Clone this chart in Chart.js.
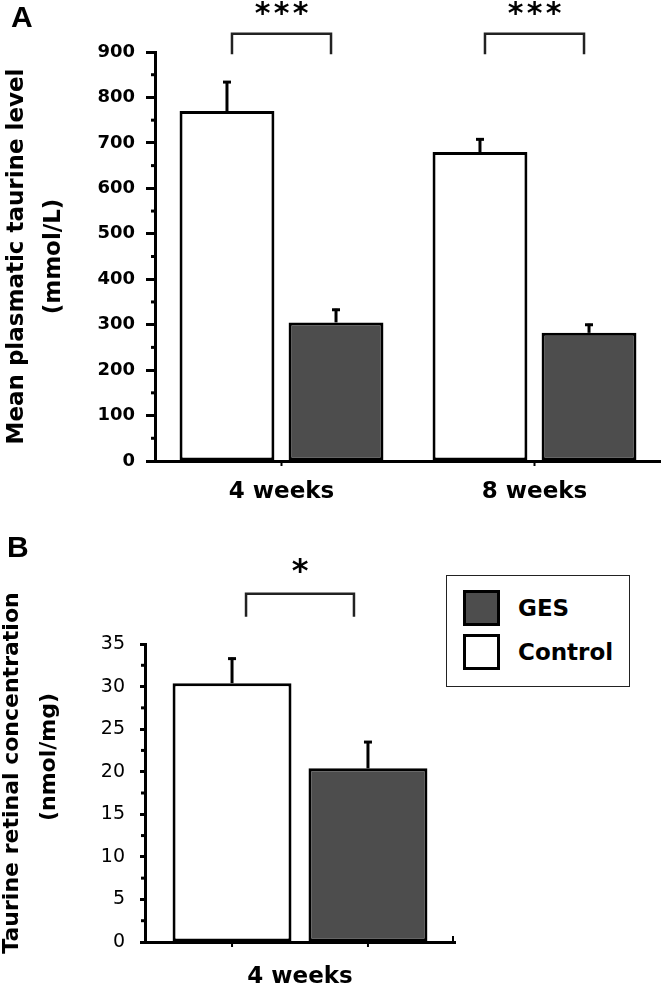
<!DOCTYPE html>
<html>
<head>
<meta charset="utf-8">
<script src="https://cdn.jsdelivr.net/npm/chart.js@4"></script>
<style>
  body { margin: 0; background: #fff; }
  #page { position: relative; width: 661px; height: 985px; overflow: hidden; background: #fff; }
  #wrapA { position: absolute; left: 0; top: 0; }
  #wrapB { position: absolute; left: 0; top: 515px; }
  .panel { position: absolute; font: bold 30px 'Liberation Sans', Arial, sans-serif; color: #000; }
  #legend { position: absolute; left: 446px; top: 575px; width: 184px; height: 112px;
            box-sizing: border-box; border: 1.5px solid #222; background: #fff; }
  .item { position: absolute; left: 16px; display: flex; align-items: center; height: 36px; }
  .swatch { width: 37px; height: 36px; box-sizing: border-box; border: 3px solid #000; }
  .item span { margin-left: 18px; font: bold 23px 'DejaVu Sans', sans-serif; color: #000; }
</style>
</head>
<body>
<div id="page">
  <div id="wrapA"><canvas id="chartA" width="661" height="515"></canvas></div>
  <div id="wrapB"><canvas id="chartB" width="661" height="470"></canvas></div>
  <div class="panel" style="left:11px;top:0px;">A</div>
  <div class="panel" style="left:7px;top:530px;">B</div>
  <div id="legend"></div>
</div>
<script>
// panel A: plasma taurine
const weeksA = ['4 weeks', '8 weeks'];
const controlA = [770, 680];
const controlErrA = [66, 30];
const gesA = [305, 282];
const gesErrA = [30, 20];
const sigA = ['***', '***'];

// panel B: retinal taurine
const weeksB = ['4 weeks'];
const controlB = [30.4];
const controlErrB = [3.0];
const gesB = [20.4];
const gesErrB = [3.2];
const sigB = ['*'];

const GREY = '#4d4d4d';

// error bars, minor ticks, brackets with stars
function makeExtras(cfg) {
  return {
    id: 'extras',
    afterDatasetsDraw(chart) {
      const ctx = chart.ctx;
      const y = chart.scales.y;
      const area = chart.chartArea;
      ctx.save();
      ctx.strokeStyle = '#000';
      ctx.fillStyle = '#000';

      // error bars (upper only)
      chart.data.datasets.forEach((ds, di) => {
        const meta = chart.getDatasetMeta(di);
        meta.data.forEach((bar, i) => {
          const top = y.getPixelForValue(ds.data[i] + ds.errors[i]);
          ctx.lineWidth = 3;
          ctx.beginPath();
          ctx.moveTo(bar.x, bar.y);
          ctx.lineTo(bar.x, top);
          ctx.stroke();
          ctx.beginPath();
          ctx.moveTo(bar.x - 4, top + 1);
          ctx.lineTo(bar.x + 4, top + 1);
          ctx.stroke();
        });
      });

      // minor ticks on the y axis
      const step = cfg.step;
      ctx.lineWidth = 3;
      for (let v = step / 2; v < y.max; v += step) {
        const py = y.getPixelForValue(v);
        ctx.beginPath();
        ctx.moveTo(area.left - cfg.minorLen, py);
        ctx.lineTo(area.left, py);
        ctx.stroke();
      }

      // x ticks under bar centres (panel B)
      if (cfg.barTicks) {
        ctx.lineWidth = 2;
        chart.data.datasets.forEach((ds, di) => {
          chart.getDatasetMeta(di).data.forEach(bar => {
            ctx.beginPath();
            ctx.moveTo(bar.x, area.bottom);
            ctx.lineTo(bar.x, area.bottom + 5);
            ctx.stroke();
          });
        });
        ctx.beginPath();
        ctx.moveTo(area.right - 2, area.bottom);
        ctx.lineTo(area.right - 2, area.bottom - 6);
        ctx.stroke();
      }

      // significance brackets
      const m0 = chart.getDatasetMeta(0).data;
      const m1 = chart.getDatasetMeta(1).data;
      cfg.sig.forEach((txt, i) => {
        const x0 = m0[i].x + cfg.inset;
        const x1 = m1[i].x - cfg.inset;
        const yt = y.getPixelForValue(cfg.bracketTop);
        const yl = y.getPixelForValue(cfg.bracketLeg);
        ctx.lineWidth = 2.5;
        ctx.strokeStyle = '#222';
        ctx.beginPath();
        ctx.moveTo(x0, yl);
        ctx.lineTo(x0, yt);
        ctx.lineTo(x1, yt);
        ctx.lineTo(x1, yl);
        ctx.stroke();

        ctx.font = cfg.starFont;
        ctx.textAlign = 'center';
        ctx.textBaseline = 'alphabetic';
        const ys = y.getPixelForValue(cfg.starAt);
        const mid = (x0 + x1) / 2;
        const chars = txt.split('');
        chars.forEach((c, k) => {
          const mm = ctx.measureText(c);
          const off = (mm.actualBoundingBoxAscent - mm.actualBoundingBoxDescent) / 2;
          const cx = mid + (k - (chars.length - 1) / 2) * cfg.starGap;
          ctx.fillText(c, cx, ys + off);
        });
      });
      ctx.restore();
    }
  };
}

// rotated axis title drawn line by line
function makeSideTitle(lines, font) {
  return {
    id: 'sideTitle',
    afterDraw(chart) {
      const ctx = chart.ctx;
      ctx.save();
      ctx.font = font;
      ctx.fillStyle = '#000';
      ctx.textAlign = 'center';
      ctx.textBaseline = 'middle';
      lines.forEach(l => {
        ctx.save();
        ctx.translate(l.x, l.y);
        ctx.rotate(-Math.PI / 2);
        ctx.fillText(l.text, 0, 0);
        ctx.restore();
      });
      ctx.restore();
    }
  };
}

Chart.defaults.animation = false;
Chart.defaults.color = '#000';

const chartA = new Chart(document.getElementById('chartA'), {
  type: 'bar',
  data: {
    labels: weeksA,
    datasets: [
      { label: 'Control', data: controlA, errors: controlErrA, backgroundColor: '#fff',
        borderColor: '#000', borderWidth: 3, borderSkipped: false },
      { label: 'GES', data: gesA, errors: gesErrA, backgroundColor: GREY,
        borderColor: '#000', borderWidth: 3, borderSkipped: false }
    ]
  },
  options: {
    responsive: false,
    devicePixelRatio: 1,
    layout: { padding: { top: 52, right: 0, left: 0, bottom: 0 } },
    categoryPercentage: 0.862,
    barPercentage: 0.87,
    plugins: { legend: { display: false }, tooltip: { enabled: false } },
    scales: {
      x: {
        afterFit: s => { s.height = 54; },
        grid: { offset: false, drawOnChartArea: false, tickLength: 5, tickWidth: 2, tickColor: '#000' },
        border: { display: true, color: '#000', width: 3 },
        ticks: { padding: 12, font: { family: 'DejaVu Sans', weight: 'bold', size: 23 }, color: '#000' }
      },
      y: {
        min: 0, max: 900,
        afterFit: s => { s.width = 155; },
        grid: { drawOnChartArea: false, tickLength: 9, tickWidth: 3, tickColor: '#000' },
        border: { display: true, color: '#000', width: 3 },
        ticks: { stepSize: 100, padding: 11, font: { family: 'DejaVu Sans', weight: 'bold', size: 18 }, color: '#000' },
        title: {
          display: true,
          text: ['Mean plasmatic taurine level', '(mmol/L)'],
          font: { family: 'DejaVu Sans', weight: 'bold', size: 23, lineHeight: 1.6 },
          padding: { top: -1, bottom: 0 },
          color: '#000'
        }
      }
    }
  },
  plugins: [makeExtras({ step: 100, minorLen: 4, sig: sigA, inset: 5,
    bracketTop: 940, bracketLeg: 895, starAt: 995, starFont: 'bold 30px "DejaVu Sans"', starGap: 19 })]
});

const chartB = new Chart(document.getElementById('chartB'), {
  type: 'bar',
  data: {
    labels: weeksB,
    datasets: [
      { label: 'Control', data: controlB, errors: controlErrB, backgroundColor: '#fff',
        borderColor: '#000', borderWidth: 3, borderSkipped: false },
      { label: 'GES', data: gesB, errors: gesErrB, backgroundColor: GREY,
        borderColor: '#000', borderWidth: 3, borderSkipped: false }
    ]
  },
  options: {
    responsive: false,
    devicePixelRatio: 1,
    layout: { padding: { top: 129, right: 206, left: 0, bottom: 0 } },
    categoryPercentage: 0.877,
    barPercentage: 0.875,
    plugins: { legend: { display: false }, tooltip: { enabled: false } },
    scales: {
      x: {
        afterFit: s => { s.height = 43; },
        grid: { offset: false, drawOnChartArea: false, tickLength: 5, tickColor: 'rgba(0,0,0,0)' },
        border: { display: true, color: '#000', width: 3 },
        ticks: { padding: 16, font: { family: 'DejaVu Sans', weight: 'bold', size: 23 }, color: '#000' }
      },
      y: {
        min: 0, max: 35,
        afterFit: s => { s.width = 145; },
        grid: { drawOnChartArea: false, tickLength: 5, tickWidth: 3, tickColor: '#000' },
        border: { display: true, color: '#000', width: 3 },
        ticks: { stepSize: 5, padding: 15, font: { family: 'DejaVu Sans', size: 19 }, color: '#000' }
      }
    }
  },
  plugins: [
    makeExtras({ step: 5, minorLen: 4, sig: sigB, inset: 14, barTicks: true,
      bracketTop: 40.9, bracketLeg: 38.2, starAt: 44.2, starFont: 'bold 32px "DejaVu Sans"', starGap: 19 }),
    makeSideTitle([
      { text: 'Taurine retinal concentration', x: 12, y: 258 },
      { text: '(nmol/mg)', x: 49, y: 242 }
    ], 'bold 22px "DejaVu Sans"')
  ]
});

// legend built from panel B datasets, GES first
const legend = document.getElementById('legend');
chartB.data.datasets.slice().reverse().forEach((ds, i) => {
  const item = document.createElement('div');
  item.className = 'item';
  item.style.top = (14 + i * 44) + 'px';
  item.innerHTML = '<div class="swatch" style="background:' + ds.backgroundColor + '"></div><span>' + ds.label + '</span>';
  legend.appendChild(item);
});
</script>
</body>
</html>
